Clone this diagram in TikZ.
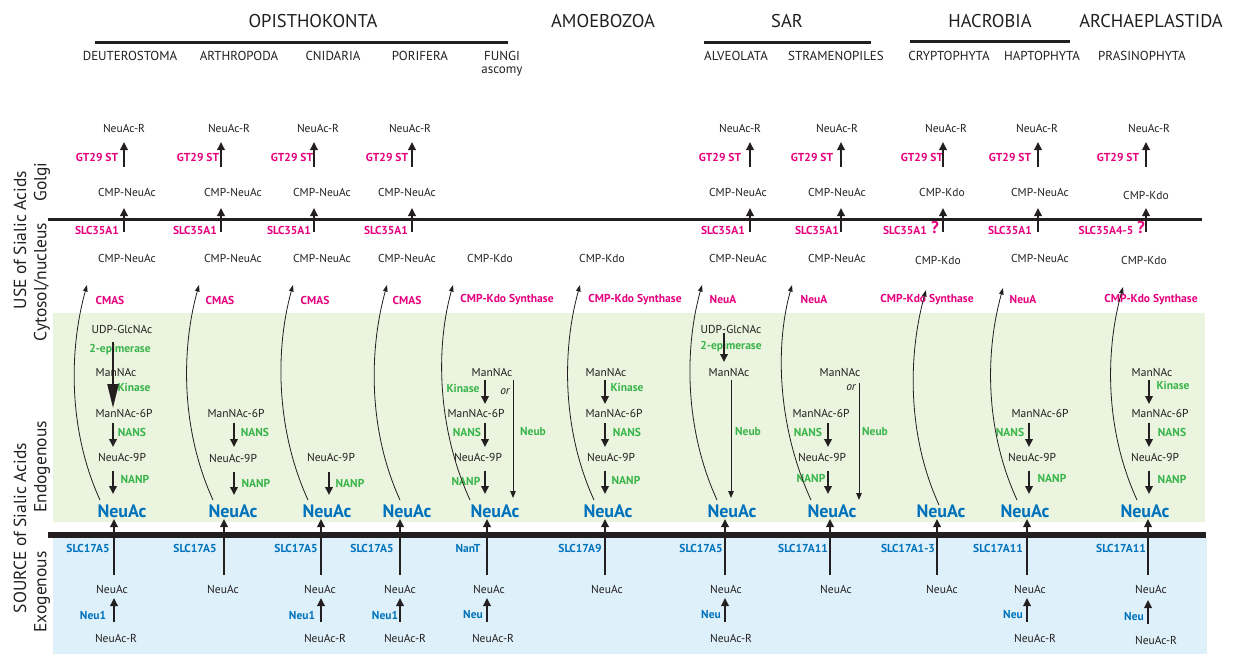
\documentclass[tikz,border=0pt]{standalone}
\usepackage{fontspec}
\setmainfont{PT Sans}
\usetikzlibrary{arrows.meta,calc}
\definecolor{txt}{HTML}{231F20}
\definecolor{pinkc}{HTML}{E6007E}
\definecolor{greenc}{HTML}{39B54A}
\definecolor{bluec}{HTML}{0072BC}
\definecolor{gbg}{HTML}{EBF4DE}
\definecolor{bbg}{HTML}{DEF1FA}
% vertical arrow between named coordinates
\newcommand\va[5]{\coordinate (#1a) at (#2,#3);\coordinate (#1b) at (#2,#4);\draw[#5] (#1a) -- (#1b);}
% curved arrow (bowing left) between named coordinates
\newcommand\cu[5]{\coordinate (#1a) at (#2,#3);\coordinate (#1b) at (#4,#5);
  \draw[curvarr] (#1a) .. controls ($(#1a)+(-32,-70)$) and ($(#1b)+(-18,65)$) .. (#1b);}
\begin{document}
\begin{tikzpicture}[x=1pt,y=-1pt,
  lab/.style={font=\fontsize{11.5}{12}\selectfont,text=txt,inner sep=0pt},
  pk/.style={font=\bfseries\fontsize{11.5}{12}\selectfont,text=pinkc,inner sep=0pt},
  qm/.style={font=\bfseries\fontsize{17}{18}\selectfont,text=pinkc,inner sep=0pt},
  gn/.style={font=\bfseries\fontsize{11.5}{12}\selectfont,text=greenc,inner sep=0pt},
  bs/.style={font=\bfseries\fontsize{11.5}{12}\selectfont,text=bluec,inner sep=0pt},
  nbig/.style={font=\bfseries\fontsize{18}{20}\selectfont,text=bluec,inner sep=0pt},
  hdr/.style={font=\fontsize{18.5}{20}\selectfont,text=txt,inner sep=0pt},
  subl/.style={font=\fontsize{13}{14}\selectfont,text=txt,inner sep=0pt},
  sidel/.style={font=\fontsize{17.5}{19}\selectfont,text=txt,rotate=90,inner sep=0pt},
  orl/.style={font=\itshape\fontsize{11.5}{12}\selectfont,text=txt,inner sep=0pt},
  arr/.style={draw=txt,line width=1.8pt,-{Triangle[width=7.5pt,length=8pt]}},
  bigarr/.style={draw=txt,line width=2pt,-{Triangle[width=11pt,length=24pt]}},
  neubarr/.style={draw=txt,line width=1pt,-{Triangle[width=5.5pt,length=7pt]}},
  curvarr/.style={draw=txt,line width=0.8pt,-{Triangle[width=4.5pt,length=6.5pt]}},
  grpline/.style={draw=txt,line width=3pt},
]
\useasboundingbox (0,0) rectangle (1238,654);
% backgrounds
\fill[gbg] (53,313) rectangle (1205,522);
\fill[bbg] (53,538) rectangle (1207,654);
% membranes
\coordinate (gm1) at (48,219); \coordinate (gm2) at (1202,219);
\draw[draw=txt,line width=3pt] (gm1) -- (gm2);
\coordinate (pm1) at (48,535); \coordinate (pm2) at (1206,535);
\draw[draw=txt,line width=5.5pt] (pm1) -- (pm2);

% header
\node[hdr] (opis) at (313,21) {OPISTHOKONTA};
\node[hdr] (amoe) at (603,21) {AMOEBOZOA};
\node[hdr] (sar) at (787,21) {SAR};
\node[hdr] (hacr) at (990,21) {HACROBIA};
\node[hdr] (arch) at (1151,21) {ARCHAEPLASTIDA};
\coordinate (ol1) at (95,42); \coordinate (ol2) at (508,42); \draw[grpline] (ol1) -- (ol2);
\coordinate (sl1) at (704,42); \coordinate (sl2) at (871,42); \draw[grpline] (sl1) -- (sl2);
\coordinate (hl1) at (910,41); \coordinate (hl2) at (1070,41); \draw[grpline] (hl1) -- (hl2);
\node[subl] (deut) at (130,56) {DEUTEROSTOMA};
\node[subl] (arth) at (239,56) {ARTHROPODA};
\node[subl] (cnid) at (333,56) {CNIDARIA};
\node[subl] (pori) at (420,56) {PORIFERA};
\node[subl] (fung) at (502,56) {FUNGI};
\node[subl] (asco) at (502,72) {ascomy};
\node[subl] (alve) at (736,56) {ALVEOLATA};
\node[subl] (stra) at (836,56) {STRAMENOPILES};
\node[subl] (cryp) at (949,56) {CRYPTOPHYTA};
\node[subl] (hapt) at (1042,56) {HAPTOPHYTA};
\node[subl] (pras) at (1142,56) {PRASINOPHYTA};

% side labels
\node[sidel] (use) at (20,240) {USE of Sialic Acids};
\node[sidel] (golg) at (42,182) {Golgi};
\node[sidel] (cyto) at (42,282) {Cytosol/nucleus};
\node[sidel] (sour) at (20,528) {SOURCE of Sialic Acids};
\node[sidel] (endo) at (42,467) {Endogenous};
\node[sidel] (exog) at (42,592) {Exogenous};

% ---------- Golgi / transport rows ----------
% col1
\node[lab] (r1) at (124,128) {NeuAc-R};
\node[pk] (gt1) at (97,157) {GT29 ST};
\node[lab] (cg1) at (127,192) {CMP-NeuAc};
\node[pk] (sc1) at (97,230) {SLC35A1};
\node[lab] (cc1) at (127,258) {CMP-NeuAc};
\node[pk] (en1) at (110,300) {CMAS};
\va{t1}{124}{167}{142}{arr} \va{m1}{124}{232}{208}{arr}
% col2
\node[lab] (r2) at (229,128) {NeuAc-R};
\node[pk] (gt2) at (198,157) {GT29 ST};
\node[lab] (cg2) at (233,192) {CMP-NeuAc};
\node[pk] (sc2) at (195,230) {SLC35A1};
\node[lab] (cc2) at (233,258) {CMP-NeuAc};
\node[pk] (en2) at (220,300) {CMAS};
\va{t2}{221}{167}{142}{arr} \va{m2}{221}{232}{208}{arr}
% col3
\node[lab] (r3) at (318,128) {NeuAc-R};
\node[pk] (gt3) at (292,157) {GT29 ST};
\node[lab] (cg3) at (322,192) {CMP-NeuAc};
\node[pk] (sc3) at (289,230) {SLC35A1};
\node[lab] (cc3) at (322,258) {CMP-NeuAc};
\node[pk] (en3) at (315,300) {CMAS};
\va{t3}{314}{167}{142}{arr} \va{m3}{314}{232}{208}{arr}
% col4
\node[lab] (r4) at (410,128) {NeuAc-R};
\node[pk] (gt4) at (387,157) {GT29 ST};
\node[lab] (cg4) at (407,192) {CMP-NeuAc};
\node[pk] (sc4) at (386,230) {SLC35A1};
\node[lab] (cc4) at (407,258) {CMP-NeuAc};
\node[pk] (en4) at (407,300) {CMAS};
\va{t4}{412}{167}{142}{arr} \va{m4}{412}{232}{208}{arr}
% col5
\node[lab] (cc5) at (490,258) {CMP-Kdo};
\node[pk] (en5) at (507,300) {CMP-Kdo Synthase};
% col6
\node[lab] (cc6) at (602,258) {CMP-Kdo};
\node[pk] (en6) at (635,300) {CMP-Kdo Synthase};
% col7
\node[lab] (r7) at (740,128) {NeuAc-R};
\node[pk] (gt7) at (720,157) {GT29 ST};
\node[lab] (cg7) at (738,192) {CMP-NeuAc};
\node[pk] (sc7) at (723,230) {SLC35A1};
\node[lab] (cc7) at (738,258) {CMP-NeuAc};
\node[pk] (en7) at (723,300) {NeuA};
\va{t7}{750}{167}{142}{arr} \va{m7}{750}{232}{208}{arr}
% col8
\node[lab] (r8) at (837,128) {NeuAc-R};
\node[pk] (gt8) at (812,157) {GT29 ST};
\node[lab] (cg8) at (837,192) {CMP-NeuAc};
\node[pk] (sc8) at (817,230) {SLC35A1};
\node[lab] (cc8) at (837,258) {CMP-NeuAc};
\node[pk] (en8) at (814,300) {NeuA};
\va{t8}{841}{167}{142}{arr} \va{m8}{841}{232}{208}{arr}
% col9
\node[lab] (r9) at (946,128) {NeuAc-R};
\node[pk] (gt9) at (922,157) {GT29 ST};
\node[lab] (cg9) at (942,192) {CMP-Kdo};
\node[pk] (sc9) at (905,230) {SLC35A1};
\node[qm] (q9) at (935,228) {?};
\node[lab] (cc9) at (938,260) {CMP-Kdo};
\node[pk] (en9) at (927,300) {CMP-Kdo Synthase};
\va{t9}{943}{167}{142}{arr} \va{m9}{943}{232}{208}{arr}
% col10
\node[lab] (r10) at (1037,128) {NeuAc-R};
\node[pk] (gt10) at (1010,157) {GT29 ST};
\node[lab] (cg10) at (1040,192) {CMP-NeuAc};
\node[pk] (sc10) at (1010,230) {SLC35A1};
\node[lab] (cc10) at (1040,258) {CMP-NeuAc};
\node[pk] (en10) at (1023,300) {NeuA};
\va{t10}{1038}{167}{142}{arr} \va{m10}{1038}{232}{208}{arr}
% col11
\node[lab] (r11) at (1149,128) {NeuAc-R};
\node[pk] (gt11) at (1118,157) {GT29 ST};
\node[lab] (cg11) at (1146,195) {CMP-Kdo};
\node[pk] (sc11) at (1106,230) {SLC35A4-5};
\node[qm] (q11) at (1141,228) {?};
\node[lab] (cc11) at (1144,260) {CMP-Kdo};
\node[pk] (en11) at (1151,300) {CMP-Kdo Synthase};
\va{t11}{1146}{167}{142}{arr} \va{m11}{1146}{232}{208}{arr}

% ---------- Endogenous pathways ----------
% col1
\node[lab] (ud1) at (122,329) {UDP-GlcNAc};
\node[gn] (ep1) at (120,350) {2-epimerase};
\node[lab] (mn1) at (116,372) {ManNAc};
\node[gn] (ki1) at (134,387) {Kinase};
\node[lab] (m6p1) at (124,413) {ManNAc-6P};
\node[gn] (ns1) at (132,432) {NANS};
\node[lab] (n9p1) at (122,457) {NeuAc-9P};
\node[gn] (np1) at (135,479) {NANP};
\node[nbig] (n1) at (122,511) {NeuAc};
\va{a1e}{113}{342}{408}{bigarr}
\va{a1s}{113}{423}{447}{arr}
\va{a1p}{113}{471}{494}{arr}
% col2
\node[lab] (m6p2) at (236,413) {ManNAc-6P};
\node[gn] (ns2) at (255,432) {NANS};
\node[lab] (n9p2) at (233,458) {NeuAc-9P};
\node[gn] (np2) at (256,483) {NANP};
\node[nbig] (n2) at (233,511) {NeuAc};
\va{a2s}{234}{423}{447}{arr}
\va{a2p}{234}{472}{495}{arr}
% col3
\node[lab] (n9p3) at (331,457) {NeuAc-9P};
\node[gn] (np3) at (350,483) {NANP};
\node[nbig] (n3) at (327,511) {NeuAc};
\va{a3p}{329}{472}{495}{arr}
% col4
\node[nbig] (n4) at (407,511) {NeuAc};
% col5
\node[lab] (mn5) at (492,372) {ManNAc};
\node[gn] (ki5) at (463,388) {Kinase};
\node[orl] (or5) at (505,392) {or};
\node[lab] (m6p5) at (476,413) {ManNAc-6P};
\node[gn] (ns5) at (467,432) {NANS};
\node[lab] (n9p5) at (478,457) {NeuAc-9P};
\node[gn] (np5) at (466,481) {NANP};
\node[gn] (nb5) at (533,432) {Neub};
\node[nbig] (n5) at (495,511) {NeuAc};
\va{a5k}{485}{380}{404}{arr}
\va{a5s}{485}{423}{447}{arr}
\va{a5p}{485}{471}{494}{arr}
\va{a5n}{513}{380}{498}{neubarr}
% col6
\node[lab] (mn6) at (606,372) {ManNAc};
\node[gn] (ki6) at (627,387) {Kinase};
\node[lab] (m6p6) at (614,413) {ManNAc-6P};
\node[gn] (ns6) at (627,432) {NANS};
\node[lab] (n9p6) at (611,457) {NeuAc-9P};
\node[gn] (np6) at (626,480) {NANP};
\node[nbig] (n6) at (608,511) {NeuAc};
\va{a6k}{605}{380}{404}{arr}
\va{a6s}{605}{423}{447}{arr}
\va{a6p}{605}{471}{494}{arr}
% col7
\node[lab] (ud7) at (731,329) {UDP-GlcNAc};
\node[gn] (ep7) at (731,347) {2-epimerase};
\node[lab] (mn7) at (729,372) {ManNAc};
\node[gn] (nb7) at (748,432) {Neub};
\node[nbig] (n7) at (732,511) {NeuAc};
\va{a7e}{724}{333}{362}{arr}
\va{a7n}{731}{380}{498}{neubarr}
% col8
\node[lab] (mn8) at (840,372) {ManNAc};
\node[orl] (or8) at (851,388) {or};
\node[lab] (m6p8) at (821,413) {ManNAc-6P};
\node[gn] (ns8) at (808,432) {NANS};
\node[lab] (n9p8) at (822,457) {NeuAc-9P};
\node[gn] (np8) at (811,478) {NANP};
\node[gn] (nb8) at (875,432) {Neub};
\node[nbig] (n8) at (832,511) {NeuAc};
\va{a8s}{828}{423}{447}{arr}
\va{a8p}{828}{471}{494}{arr}
\va{a8n}{859}{383}{500}{neubarr}
% col9
\node[nbig] (n9) at (941,511) {NeuAc};
% col10
\node[lab] (m6p10) at (1040,413) {ManNAc-6P};
\node[gn] (ns10) at (1010,432) {NANS};
\node[lab] (n9p10) at (1032,457) {NeuAc-9P};
\node[gn] (np10) at (1052,478) {NANP};
\node[nbig] (n10) at (1025,511) {NeuAc};
\va{a10s}{1029}{423}{447}{arr}
\va{a10p}{1029}{471}{494}{arr}
% col11
\node[lab] (mn11) at (1152,372) {ManNAc};
\node[gn] (ki11) at (1173,385) {Kinase};
\node[lab] (m6p11) at (1160,413) {ManNAc-6P};
\node[gn] (ns11) at (1172,432) {NANS};
\node[lab] (n9p11) at (1155,457) {NeuAc-9P};
\node[gn] (np11) at (1172,479) {NANP};
\node[nbig] (n11) at (1145,511) {NeuAc};
\va{a11k}{1149}{380}{404}{arr}
\va{a11s}{1149}{423}{447}{arr}
\va{a11p}{1149}{471}{494}{arr}

% curved activation arrows
\cu{c1}{100}{500}{87}{285}
\cu{c2}{213}{500}{199}{285}
\cu{c3}{308}{500}{293}{285}
\cu{c4}{400}{500}{387}{285}
\cu{c5}{470}{500}{453}{285}
\cu{c6}{594}{500}{580}{285}
\cu{c7}{717}{500}{702}{285}
\cu{c8}{811}{500}{792}{285}
\cu{c9}{939}{505}{926}{290}
\cu{c10}{1017}{500}{1003}{288}
\cu{c11}{1137}{500}{1123}{287}

% ---------- Exogenous ----------
\node[bs] (x1) at (88,548) {SLC17A5};
\node[bs] (x2) at (195,548) {SLC17A5};
\node[bs] (x3) at (296,548) {SLC17A5};
\node[bs] (x4) at (372,548) {SLC17A5};
\node[bs] (x5) at (468,548) {NanT};
\node[bs] (x6) at (580,548) {SLC17A9};
\node[bs] (x7) at (701,548) {SLC17A5};
\node[bs] (x8) at (803,548) {SLC17A11};
\node[bs] (x9) at (908,548) {SLC17A1-3};
\node[bs] (x10) at (998,548) {SLC17A11};
\node[bs] (x11) at (1121,548) {SLC17A11};
\node[lab] (e1) at (112,589) {NeuAc};
\node[lab] (e2) at (223,589) {NeuAc};
\node[lab] (e3) at (320,589) {NeuAc};
\node[lab] (e4) at (400,589) {NeuAc};
\node[lab] (e5) at (489,589) {NeuAc};
\node[lab] (e6) at (607,589) {NeuAc};
\node[lab] (e7) at (726,589) {NeuAc};
\node[lab] (e8) at (836,589) {NeuAc};
\node[lab] (e9) at (942,589) {NeuAc};
\node[lab] (e10) at (1030,589) {NeuAc};
\node[lab] (e11) at (1151,589) {NeuAc};
\va{b1}{114}{575}{519}{arr}
\va{b2}{224}{575}{519}{arr}
\va{b3}{321}{575}{519}{arr}
\va{b4}{400}{575}{519}{arr}
\va{b5}{487}{575}{519}{arr}
\va{b6}{605}{575}{519}{arr}
\va{b7}{725}{575}{519}{arr}
\va{b8}{830}{575}{519}{arr}
\va{b9}{937}{575}{519}{arr}
\va{b10}{1027}{575}{519}{arr}
\va{b11}{1148}{575}{519}{arr}
\node[bs] (s1) at (93,615) {Neu1};
\node[bs] (s3) at (302,615) {Neu1};
\node[bs] (s4) at (385,615) {Neu1};
\node[bs] (s5) at (473,615) {Neu};
\node[bs] (s7) at (711,615) {Neu};
\node[bs] (s10) at (1013,615) {Neu};
\node[bs] (s11) at (1134,617) {Neu};
\va{u1}{114}{622}{598}{arr}
\va{u3}{321}{622}{598}{arr}
\va{u4}{400}{622}{598}{arr}
\va{u5}{487}{622}{598}{arr}
\va{u7}{725}{622}{598}{arr}
\va{u10}{1027}{622}{598}{arr}
\va{u11}{1148}{624}{600}{arr}
\node[lab] (g1) at (116,638) {NeuAc-R};
\node[lab] (g3) at (325,638) {NeuAc-R};
\node[lab] (g4) at (405,638) {NeuAc-R};
\node[lab] (g5) at (493,638) {NeuAc-R};
\node[lab] (g7) at (731,638) {NeuAc-R};
\node[lab] (g10) at (1035,638) {NeuAc-R};
\node[lab] (g11) at (1156,640) {NeuAc-R};
\end{tikzpicture}
\end{document}
